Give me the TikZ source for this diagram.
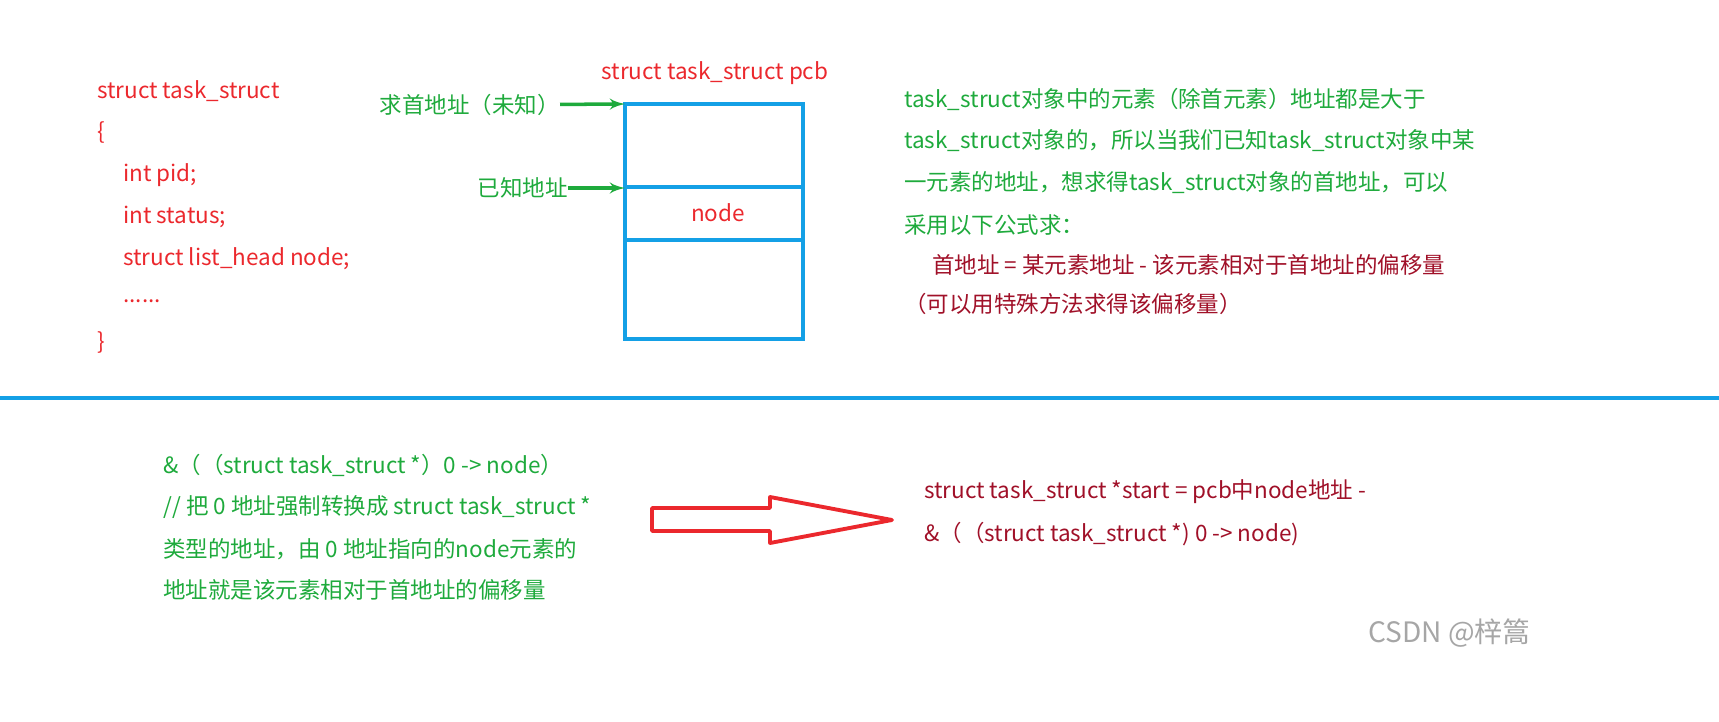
\documentclass[tikz,border=0pt]{standalone}
\usepackage{fontspec}
\setmainfont{Noto Sans CJK SC}
\usetikzlibrary{shapes,arrows,positioning,fit,calc}
\definecolor{codered}{RGB}{235,40,45}
\definecolor{noteg}{RGB}{30,170,60}
\definecolor{darkred}{RGB}{160,16,40}
\definecolor{boxblue}{RGB}{20,160,230}
\begin{document}
\begin{tikzpicture}[
    x=0.02cm, y=-0.02cm,
    txt/.style = {anchor=west, inner sep=0pt, font=\fontsize{12.8}{15}\selectfont},
    code/.style = {txt, text=codered},
    note/.style = {txt, text=noteg},
    formula/.style = {txt, text=darkred},
    cell/.style = {draw=boxblue, line width=2.2pt},
    line/.style = {draw=noteg, line width=2pt, -latex'}
]
\useasboundingbox (0,0) rectangle (1719,722);
% left code
\node[code] (c1) at (97,91) {struct task\_struct};
\node[code] (c2) at (97,133) {\{};
\node[code] (c3) at (123,175) {int pid;};
\node[code] (c4) at (123,217) {int status;};
\node[code] (c5) at (123,259) {struct list\_head node;};
\node[code] (c6) at (123,301) {......};
\node[code] (c7) at (97,343) {\}};
% memory block
\node[code, anchor=center] (pcb) at (715,73) {struct task\_struct pcb};
\draw[cell] (625,104) rectangle (803,339);
\draw[cell] (625,187) -- (803,187);
\draw[cell] (625,240) -- (803,240);
\coordinate (top) at (625,104);
\coordinate (mid) at (625,188);
\node[code, anchor=center] (nd) at (718,213) {node};
\node[note, anchor=east] (unk) at (560,105) {求首地址（未知）};
\node[note, anchor=east] (known) at (568,188) {已知地址};
\path[line] (unk) -- (top);
\path[line] (known) -- (mid);
% explanation
\node[note] (e1) at (904,99) {task\_struct对象中的元素（除首元素）地址都是大于};
\node[note] (e2) at (904,141) {task\_struct对象的，所以当我们已知task\_struct对象中某};
\node[note] (e3) at (904,183) {一元素的地址，想求得task\_struct对象的首地址，可以};
\node[note] (e4) at (904,225) {采用以下公式求：};
\node[formula] (f1) at (932,265) {首地址 = 某元素地址 - 该元素相对于首地址的偏移量};
\node[formula] (f2) at (904,304) {（可以用特殊方法求得该偏移量）};
% divider
\draw[boxblue, line width=2.2pt] (0,398) -- (1719,398);
% bottom
\node[note] (b1) at (163,465) {\&（（struct task\_struct *）0 -> node）};
\node[note] (b2) at (163,507) {// 把 0 地址强制转换成 struct task\_struct *};
\node[note] (b3) at (163,549) {类型的地址，由 0 地址指向的node元素的};
\node[note] (b4) at (163,590) {地址就是该元素相对于首地址的偏移量};
\draw[codered, line width=2.2pt, line join=round]
  (652,508) -- (770,508) -- (770,497) -- (892,520) -- (770,543) -- (770,531) -- (652,531) -- cycle;
\node[formula] (r1) at (924,492) {struct task\_struct *start = pcb中node地址 -};
\node[formula] (r2) at (924,534) {\&（（struct task\_struct *) 0 -> node)};
\node[txt, text=black!35, font=\fontsize{16}{18}\selectfont] (wm) at (1368,633) {CSDN @梓篙};
\end{tikzpicture}
\end{document}
